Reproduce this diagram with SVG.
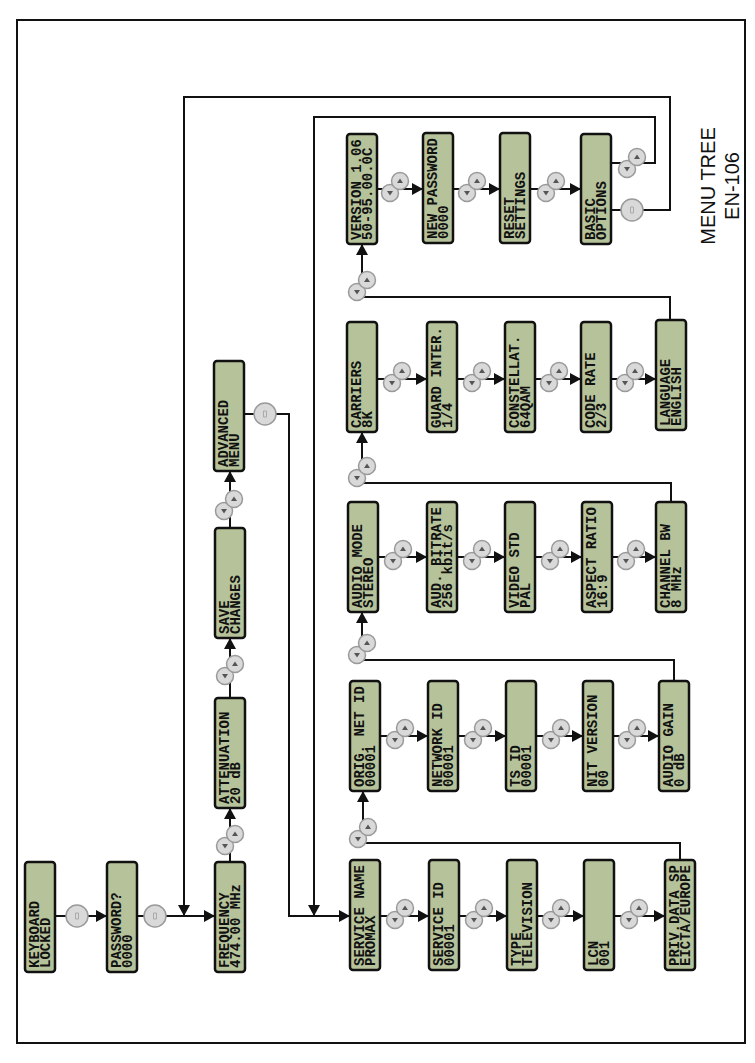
<svg xmlns="http://www.w3.org/2000/svg" width="755" height="1063" viewBox="0 0 755 1063">
<style>
.box{fill:#b6c39a;stroke:#111;stroke-width:2.5}
.t{font-family:"Liberation Mono","DejaVu Sans Mono",monospace;font-size:14px;font-weight:bold;fill:#111}
.ln{fill:none;stroke:#111;stroke-width:2}
.btn{fill:#d9d9d9;stroke:#9a9a9a;stroke-width:1.5}
.tri{fill:#555}
.title{font-family:"Liberation Sans",Arial,sans-serif;font-size:20px;fill:#111}
</style>
<defs>
<marker id="ah" markerUnits="userSpaceOnUse" markerWidth="12" markerHeight="12" refX="11" refY="6" orient="auto">
<path d="M0,0 L11,6 L0,12 z" fill="#111"/>
</marker>
<g id="ud">
<circle cx="-5" cy="6" r="8.5" class="btn"/>
<path d="M-8,4 L-2,4 L-5,8.5 z" class="tri"/>
<circle cx="5" cy="-6" r="8.5" class="btn"/>
<path d="M2,-4 L8,-4 L5,-8.5 z" class="tri"/>
</g>
<g id="ok">
<circle r="11" class="btn"/>
<path d="M-1.5,-3 h3 v6 h-3 z" fill="none" stroke="#aaa" stroke-width="1"/>
</g>
</defs>
<rect x="17" y="20" width="728" height="1023" fill="#fff" stroke="#111" stroke-width="2"/>

<g id="connectors">
<path class="ln" d="M55,916 H107" marker-end="url(#ah)"/>
<use href="#ok" x="77" y="916"/>
<path class="ln" d="M137,916 H215" marker-end="url(#ah)"/>
<use href="#ok" x="155" y="916"/>
<path class="ln" d="M611,210 H670 V97 H184 V916" marker-end="url(#ah)"/>
<use href="#ok" x="632" y="210"/>
<path class="ln" d="M611,163 H655 V117 H314 V916" marker-end="url(#ah)"/>
<use href="#ud" x="632" y="163"/>
<path class="ln" d="M230,862 V808" marker-end="url(#ah)"/>
<use href="#ud" x="230" y="840"/>
<path class="ln" d="M230,698 V638" marker-end="url(#ah)"/>
<use href="#ud" x="230" y="670"/>
<path class="ln" d="M230,528 V471" marker-end="url(#ah)"/>
<use href="#ud" x="229" y="505"/>
<path class="ln" d="M245,414 H289 V916 H350" marker-end="url(#ah)"/>
<use href="#ok" x="265" y="414"/>
<path class="ln" d="M380,916 H429" marker-end="url(#ah)"/>
<use href="#ud" x="400" y="914"/>
<path class="ln" d="M459,916 H507" marker-end="url(#ah)"/>
<use href="#ud" x="479" y="914"/>
<path class="ln" d="M537,916 H584" marker-end="url(#ah)"/>
<use href="#ud" x="556" y="914"/>
<path class="ln" d="M614,916 H665" marker-end="url(#ah)"/>
<use href="#ud" x="634" y="914"/>
<path class="ln" d="M680,860 V843 H363 V791" marker-end="url(#ah)"/>
<use href="#ud" x="363" y="833"/>
<path class="ln" d="M380,736 H428" marker-end="url(#ah)"/>
<use href="#ud" x="400" y="734"/>
<path class="ln" d="M458,736 H506" marker-end="url(#ah)"/>
<use href="#ud" x="478" y="734"/>
<path class="ln" d="M536,736 H583" marker-end="url(#ah)"/>
<use href="#ud" x="556" y="734"/>
<path class="ln" d="M613,736 H659" marker-end="url(#ah)"/>
<use href="#ud" x="632" y="734"/>
<path class="ln" d="M674,681 V660 H362 V612" marker-end="url(#ah)"/>
<use href="#ud" x="362" y="649"/>
<path class="ln" d="M378,557 H427" marker-end="url(#ah)"/>
<use href="#ud" x="398" y="555"/>
<path class="ln" d="M457,557 H505" marker-end="url(#ah)"/>
<use href="#ud" x="477" y="555"/>
<path class="ln" d="M535,557 H582" marker-end="url(#ah)"/>
<use href="#ud" x="555" y="555"/>
<path class="ln" d="M612,557 H656" marker-end="url(#ah)"/>
<use href="#ud" x="631" y="555"/>
<path class="ln" d="M671,502 V483 H362 V432" marker-end="url(#ah)"/>
<use href="#ud" x="362" y="472"/>
<path class="ln" d="M377,379 H427" marker-end="url(#ah)"/>
<use href="#ud" x="397" y="377"/>
<path class="ln" d="M457,379 H505" marker-end="url(#ah)"/>
<use href="#ud" x="477" y="377"/>
<path class="ln" d="M535,379 H581" marker-end="url(#ah)"/>
<use href="#ud" x="554" y="377"/>
<path class="ln" d="M611,379 H656" marker-end="url(#ah)"/>
<use href="#ud" x="630" y="377"/>
<path class="ln" d="M670,320 V297 H362 V244" marker-end="url(#ah)"/>
<use href="#ud" x="362" y="286"/>
<path class="ln" d="M377,189 H423" marker-end="url(#ah)"/>
<use href="#ud" x="395" y="187"/>
<path class="ln" d="M453,189 H500" marker-end="url(#ah)"/>
<use href="#ud" x="472" y="187"/>
<path class="ln" d="M530,189 H581" marker-end="url(#ah)"/>
<use href="#ud" x="551" y="187"/>
</g>

<g id="n-keyboard"><rect class="box" x="25" y="862" width="30" height="110" rx="3"/>
<text class="t" transform="translate(39,968) rotate(-90)">KEYBOARD</text><text class="t" transform="translate(50,968) rotate(-90)">LOCKED</text></g>
<g id="n-password"><rect class="box" x="107" y="862" width="30" height="110" rx="3"/>
<text class="t" transform="translate(121,968) rotate(-90)">PASSWORD?</text><text class="t" transform="translate(132,968) rotate(-90)">0000</text></g>
<g id="n-frequency"><rect class="box" x="215" y="862" width="30" height="110" rx="3"/>
<text class="t" transform="translate(229,968) rotate(-90)">FREQUENCY</text><text class="t" transform="translate(240,968) rotate(-90)">474.00 MHz</text></g>
<g id="n-attenuation"><rect class="box" x="215" y="698" width="30" height="110" rx="3"/>
<text class="t" transform="translate(229,804) rotate(-90)">ATTENUATION</text><text class="t" transform="translate(240,804) rotate(-90)">20 dB</text></g>
<g id="n-save"><rect class="box" x="215" y="528" width="30" height="110" rx="3"/>
<text class="t" transform="translate(229,634) rotate(-90)">SAVE</text><text class="t" transform="translate(240,634) rotate(-90)">CHANGES</text></g>
<g id="n-advanced"><rect class="box" x="214" y="361" width="30" height="110" rx="3"/>
<text class="t" transform="translate(228,467) rotate(-90)">ADVANCED</text><text class="t" transform="translate(239,467) rotate(-90)">MENU</text></g>

<g id="n-servicename"><rect class="box" x="350" y="860" width="30" height="110" rx="3"/>
<text class="t" transform="translate(364,966) rotate(-90)">SERVICE NAME</text><text class="t" transform="translate(375,966) rotate(-90)">PROMAX</text></g>
<g id="n-serviceid"><rect class="box" x="429" y="860" width="30" height="110" rx="3"/>
<text class="t" transform="translate(443,966) rotate(-90)">SERVICE  ID</text><text class="t" transform="translate(454,966) rotate(-90)">00001</text></g>
<g id="n-type"><rect class="box" x="507" y="860" width="30" height="110" rx="3"/>
<text class="t" transform="translate(521,966) rotate(-90)">TYPE</text><text class="t" transform="translate(532,966) rotate(-90)">TELEVISION</text></g>
<g id="n-lcn"><rect class="box" x="584" y="860" width="30" height="110" rx="3"/>
<text class="t" transform="translate(598,966) rotate(-90)">LCN</text><text class="t" transform="translate(609,966) rotate(-90)">001</text></g>
<g id="n-priv"><rect class="box" x="665" y="860" width="30" height="110" rx="3"/>
<text class="t" transform="translate(679,966) rotate(-90)">PRIV.DATA SP</text><text class="t" transform="translate(690,966) rotate(-90)">EICTA/EUROPE</text></g>

<g id="n-orignet"><rect class="box" x="350" y="681" width="30" height="110" rx="3"/>
<text class="t" transform="translate(364,787) rotate(-90)">ORIG. NET ID</text><text class="t" transform="translate(375,787) rotate(-90)">00001</text></g>
<g id="n-networkid"><rect class="box" x="428" y="681" width="30" height="110" rx="3"/>
<text class="t" transform="translate(442,787) rotate(-90)">NETWORK ID</text><text class="t" transform="translate(453,787) rotate(-90)">00001</text></g>
<g id="n-tsid"><rect class="box" x="506" y="681" width="30" height="110" rx="3"/>
<text class="t" transform="translate(520,787) rotate(-90)">TS ID</text><text class="t" transform="translate(531,787) rotate(-90)">00001</text></g>
<g id="n-nit"><rect class="box" x="583" y="681" width="30" height="110" rx="3"/>
<text class="t" transform="translate(597,787) rotate(-90)">NIT VERSION</text><text class="t" transform="translate(608,787) rotate(-90)">00</text></g>
<g id="n-audiogain"><rect class="box" x="659" y="681" width="30" height="110" rx="3"/>
<text class="t" transform="translate(673,787) rotate(-90)">AUDIO GAIN</text><text class="t" transform="translate(684,787) rotate(-90)">0  dB</text></g>

<g id="n-audiomode"><rect class="box" x="348" y="502" width="30" height="110" rx="3"/>
<text class="t" transform="translate(362,608) rotate(-90)">AUDIO MODE</text><text class="t" transform="translate(373,608) rotate(-90)">STEREO</text></g>
<g id="n-bitrate"><rect class="box" x="427" y="502" width="30" height="110" rx="3"/>
<text class="t" transform="translate(441,608) rotate(-90)">AUD. BITRATE</text><text class="t" transform="translate(452,608) rotate(-90)">256 kbit/s</text></g>
<g id="n-videostd"><rect class="box" x="505" y="502" width="30" height="110" rx="3"/>
<text class="t" transform="translate(519,608) rotate(-90)">VIDEO STD</text><text class="t" transform="translate(530,608) rotate(-90)">PAL</text></g>
<g id="n-aspect"><rect class="box" x="582" y="502" width="30" height="110" rx="3"/>
<text class="t" transform="translate(596,608) rotate(-90)">ASPECT RATIO</text><text class="t" transform="translate(607,608) rotate(-90)">16:9</text></g>
<g id="n-channelbw"><rect class="box" x="656" y="502" width="30" height="110" rx="3"/>
<text class="t" transform="translate(670,608) rotate(-90)">CHANNEL BW</text><text class="t" transform="translate(681,608) rotate(-90)">8 MHz</text></g>

<g id="n-carriers"><rect class="box" x="347" y="322" width="30" height="110" rx="3"/>
<text class="t" transform="translate(361,428) rotate(-90)">CARRIERS</text><text class="t" transform="translate(372,428) rotate(-90)">8K</text></g>
<g id="n-guard"><rect class="box" x="427" y="322" width="30" height="110" rx="3"/>
<text class="t" transform="translate(441,428) rotate(-90)">GUARD INTER.</text><text class="t" transform="translate(452,428) rotate(-90)">1/4</text></g>
<g id="n-constellat"><rect class="box" x="505" y="322" width="30" height="110" rx="3"/>
<text class="t" transform="translate(519,428) rotate(-90)">CONSTELLAT.</text><text class="t" transform="translate(530,428) rotate(-90)">64QAM</text></g>
<g id="n-coderate"><rect class="box" x="581" y="322" width="30" height="110" rx="3"/>
<text class="t" transform="translate(595,428) rotate(-90)">CODE RATE</text><text class="t" transform="translate(606,428) rotate(-90)">2/3</text></g>
<g id="n-language"><rect class="box" x="656" y="320" width="30" height="110" rx="3"/>
<text class="t" transform="translate(670,426) rotate(-90)">LANGUAGE</text><text class="t" transform="translate(681,426) rotate(-90)">ENGLISH</text></g>

<g id="n-version"><rect class="box" x="347" y="134" width="30" height="110" rx="3"/>
<text class="t" transform="translate(361,240) rotate(-90)">VERSION 1.06</text><text class="t" transform="translate(372,240) rotate(-90)">50-95.00.0C</text></g>
<g id="n-newpassword"><rect class="box" x="423" y="133" width="30" height="110" rx="3"/>
<text class="t" transform="translate(437,239) rotate(-90)">NEW PASSWORD</text><text class="t" transform="translate(448,239) rotate(-90)">0000</text></g>
<g id="n-reset"><rect class="box" x="500" y="133" width="30" height="110" rx="3"/>
<text class="t" transform="translate(514,239) rotate(-90)">RESET</text><text class="t" transform="translate(525,239) rotate(-90)">SETTINGS</text></g>
<g id="n-basic"><rect class="box" x="581" y="134" width="30" height="110" rx="3"/>
<text class="t" transform="translate(595,240) rotate(-90)">BASIC</text><text class="t" transform="translate(606,240) rotate(-90)">OPTIONS</text></g>

<g id="title">
<text class="title" text-anchor="middle" transform="translate(715,186) rotate(-90)">MENU TREE</text>
<text class="title" text-anchor="middle" transform="translate(739,186) rotate(-90)">EN-106</text>
</g>
</svg>
